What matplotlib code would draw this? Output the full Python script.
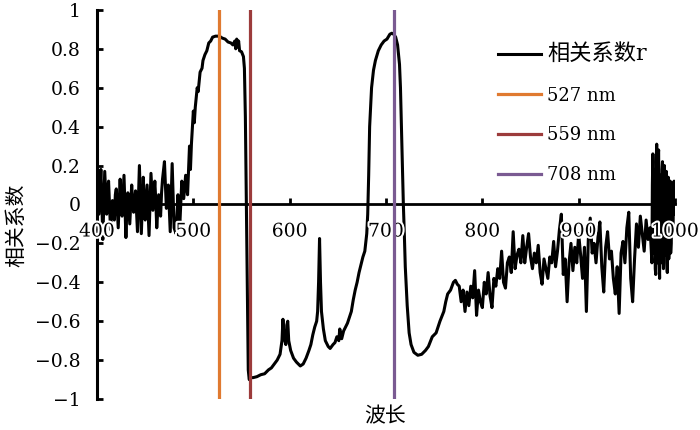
import numpy as np
import matplotlib
matplotlib.use("Agg")
import matplotlib.pyplot as plt
import matplotlib.patheffects as pe

plt.rcParams['font.family'] = ['DejaVu Serif', 'Noto Sans CJK SC']
plt.rcParams['axes.unicode_minus'] = True

# noisy start 400-498 nm
wl_a = [400, 401, 402, 404, 405, 406, 408, 410, 411, 412, 414, 416, 418, 419, 420, 422,
        424, 425, 426, 428, 430, 431, 432, 434, 436, 437, 438, 440, 442, 443, 444, 446,
        448, 449, 450, 452, 454, 455, 456, 458, 460, 461, 462, 464, 466, 467, 468, 470,
        472, 473, 474, 476, 478, 479, 480, 482, 484, 485, 486, 488, 490, 492, 494, 496,
        497, 498]
r_a = [0.25, 0.10, -0.05, 0.18, 0.02, -0.18, 0.17, -0.05, 0.08, 0.12, -0.13, 0.02, -0.08,
       0.05, 0.08, -0.12, 0.13, 0.00, -0.06, 0.15, -0.17, -0.02, 0.06, -0.10, 0.10, 0.01,
       -0.04, 0.07, -0.14, 0.04, 0.20, -0.15, 0.14, 0.02, -0.08, 0.10, -0.16, 0.00, 0.16,
       -0.03, 0.12, 0.02, -0.12, 0.05, -0.06, 0.06, 0.13, 0.22, -0.02, 0.04, 0.10, -0.14,
       0.21, 0.05, -0.12, -0.15, 0.05, -0.04, -0.10, 0.12, 0.03, 0.15, 0.05, 0.30, 0.18,
       0.31]

# plateau and drop 500-559 nm
wl_b = [500, 501, 502, 504, 505, 507, 509, 510, 512, 514, 516, 518, 520, 523, 527, 530,
        533, 536, 539, 541, 543, 544, 545, 546, 547, 548, 550, 552, 553, 554, 555, 556,
        557, 558, 559]
r_b = [0.48, 0.42, 0.50, 0.60, 0.58, 0.68, 0.70, 0.74, 0.77, 0.79, 0.83, 0.84, 0.86, 0.865,
       0.865, 0.855, 0.85, 0.835, 0.83, 0.82, 0.84, 0.80, 0.85, 0.81, 0.84, 0.79, 0.785,
       0.76, 0.70, 0.45, 0.0, -0.50, -0.85, -0.90, -0.89]

# trough with peaks 562-681 nm
wl_c = [562, 566, 570, 574, 578, 581, 584, 587, 590, 592, 593, 594, 596, 597, 598, 599,
        601, 604, 607, 611, 614, 617, 620, 622, 624, 626, 628, 629, 630, 631, 632, 633,
        635, 637, 640, 642, 645, 647, 649, 651, 652, 654, 656, 658, 660, 662, 664, 666,
        668, 670, 672, 674, 676, 678, 680, 681]
r_c = [-0.89, -0.885, -0.875, -0.87, -0.85, -0.84, -0.82, -0.80, -0.77, -0.70, -0.59,
       -0.68, -0.72, -0.62, -0.60, -0.70, -0.75, -0.79, -0.81, -0.83, -0.82, -0.79, -0.75,
       -0.72, -0.67, -0.63, -0.60, -0.55, -0.40, -0.175, -0.40, -0.55, -0.64, -0.70, -0.73,
       -0.74, -0.72, -0.71, -0.68, -0.70, -0.64, -0.69, -0.65, -0.63, -0.61, -0.58, -0.55,
       -0.49, -0.44, -0.40, -0.35, -0.31, -0.27, -0.24, -0.15, -0.05]

# red-edge peak and valley 682-774 nm
wl_d = [682, 683, 685, 687, 689, 692, 695, 698, 701, 704, 706, 708, 710, 712, 714, 715,
        716, 717, 718, 719, 720, 722, 724, 726, 729, 733, 737, 741, 744, 748, 752, 756,
        760, 762, 764, 767, 770, 772, 774]
r_d = [0.15, 0.40, 0.60, 0.69, 0.74, 0.79, 0.82, 0.84, 0.85, 0.875, 0.88, 0.875, 0.86,
       0.82, 0.72, 0.60, 0.40, 0.20, 0.0, -0.15, -0.32, -0.52, -0.66, -0.72, -0.76, -0.775,
       -0.77, -0.75, -0.73, -0.68, -0.66, -0.60, -0.55, -0.50, -0.46, -0.44, -0.40, -0.39,
       -0.41]

# noisy NIR 776-1000 nm
wl_e = [776, 778, 780, 782, 784, 786, 788, 790, 792, 794, 796, 798, 800, 802, 804, 806,
        808, 810, 812, 814, 816, 818, 820, 822, 824, 826, 828, 830, 832, 834, 836, 838,
        840, 842, 844, 846, 848, 850, 852, 854, 856, 858, 860, 862, 864, 866, 868, 870,
        872, 874, 876, 878, 880, 882, 884, 886, 888, 890, 892, 894, 896, 898, 900, 902,
        904, 906, 908, 910, 912, 914, 916, 918, 920, 922, 924, 926, 928, 930, 932, 934,
        936, 938, 940, 942, 944, 946, 948, 950, 952, 954, 956, 958, 960, 962, 964, 966,
        968, 970, 972, 974, 975, 976, 976.5, 977, 977.5, 978, 978.5, 979, 979.5, 980,
        980.5, 981, 981.5, 982, 982.5, 983, 983.5, 984, 984.5, 985, 985.5, 986, 986.5,
        987, 987.5, 988, 988.5, 989, 989.5, 990, 990.5, 991, 991.5, 992, 992.5, 993,
        993.5, 994, 994.5, 995, 995.5, 996, 996.5, 997, 997.5, 998, 998.5, 999, 1000]
r_e = [-0.42, -0.50, -0.44, -0.55, -0.45, -0.52, -0.42, -0.48, -0.34, -0.57, -0.44, -0.50,
       -0.53, -0.40, -0.46, -0.35, -0.47, -0.53, -0.38, -0.42, -0.33, -0.38, -0.24, -0.40,
       -0.43, -0.30, -0.27, -0.35, -0.14, -0.33, -0.26, -0.23, -0.30, -0.16, -0.30, -0.22,
       -0.15, -0.27, -0.33, -0.25, -0.30, -0.21, -0.35, -0.41, -0.28, -0.33, -0.38, -0.27,
       -0.30, -0.19, -0.32, -0.24, -0.13, -0.05, -0.36, -0.28, -0.50, -0.30, -0.20, -0.34,
       -0.22, -0.30, -0.15, -0.26, -0.38, -0.22, -0.55, -0.18, -0.07, -0.25, -0.20, -0.30,
       -0.17, -0.09, -0.32, -0.45, -0.22, -0.14, -0.28, -0.24, -0.38, -0.46, -0.32, -0.56,
       -0.25, -0.19, -0.30, -0.12, -0.04, -0.38, -0.50, -0.28, -0.10, -0.22, -0.06, -0.15,
       -0.24, -0.08, -0.18, -0.12, -0.20, -0.30, 0.10, 0.26, -0.25, -0.20, 0.18, 0.10,
       -0.33, -0.36, 0.22, 0.31, -0.10, -0.30, 0.25, 0.28, -0.28, -0.38, 0.05, 0.15, -0.30,
       -0.25, 0.18, 0.22, -0.20, -0.33, 0.10, 0.20, -0.26, -0.18, 0.15, 0.17, -0.30,
       -0.35, 0.08, 0.14, -0.28, -0.22, 0.10, 0.12, -0.25, -0.20, 0.02, 0.05, -0.15,
       -0.12, 0.10, 0.12, -0.05]

band_wl = [527, 559, 708]
band_labels = ['527 nm', '559 nm', '708 nm']
band_colors = ['#E07A30', '#9C3B3B', '#7A5A92']

wl = np.concatenate([wl_a, wl_b, wl_c, wl_d, wl_e])
r = np.concatenate([r_a, r_b, r_c, r_d, r_e])

fig = plt.figure(figsize=(7, 4.3), dpi=100)
ax = fig.add_axes([0.1386, 0.072, 0.8257, 0.905])

ax.plot(wl, r, color='black', lw=2.2, label='相关系数r', zorder=2)
for w, lab, c in zip(band_wl, band_labels, band_colors):
    ax.axvline(w, color=c, lw=2.3, label=lab, zorder=3)

ax.set_xlim(400, 1000)
ax.set_ylim(-1, 1)
ax.set_xticks(np.arange(400, 1001, 100))
ax.set_yticks(np.arange(-1, 1.01, 0.2))
ax.set_yticklabels(['\u22121', '\u22120.8', '\u22120.6', '\u22120.4', '\u22120.2', '0',
                    '0.2', '0.4', '0.6', '0.8', '1'])

ax.spines['top'].set_visible(False)
ax.spines['right'].set_visible(False)
ax.spines['bottom'].set_position(('data', 0))
ax.spines['left'].set_linewidth(2.2)
ax.spines['bottom'].set_linewidth(2.0)
ax.set_axisbelow(False)

ax.tick_params(axis='x', direction='in', length=4, width=2, pad=13, labelsize=13.5)
ax.tick_params(axis='y', direction='in', length=4, width=2, pad=12, labelsize=13.5)
for t in ax.get_xticklabels():
    t.set_path_effects([pe.withStroke(linewidth=3, foreground='white')])

fig.text(0.024, 0.477, '相关系数', rotation=90, ha='center', va='center', fontsize=15)
fig.text(0.55, 0.032, '波长', ha='center', va='center', fontsize=15)

leg = ax.legend(loc='upper left', bbox_to_anchor=(0.694, 0.915), frameon=False,
                fontsize=13, handlelength=2.4, handletextpad=0.3, labelspacing=1.2,
                borderpad=0, borderaxespad=0)
leg.get_texts()[0].set_fontsize(16)

fig.savefig('out.png', dpi=100)
